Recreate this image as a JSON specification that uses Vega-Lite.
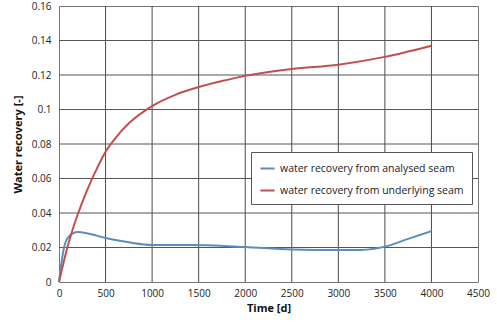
{
  "$schema": "https://vega.github.io/schema/vega-lite/v6.json",
  "width": 419,
  "height": 276,
  "autosize": {"type": "none"},
  "padding": {"left": 59, "top": 6, "right": 19, "bottom": 40},
  "background": "white",
  "config": {
    "font": "Open Sans",
    "view": {"stroke": "#777777", "strokeWidth": 1},
    "axis": {"labelFont": "Open Sans", "titleFont": "Open Sans", "labelFontSize": 10, "labelColor": "#222", "titleColor": "#111", "domain": false, "ticks": false, "grid": false, "labelOverlap": false}
  },
  "datasets": {
    "gx": [{"t": 500}, {"t": 1000}, {"t": 1500}, {"t": 2000}, {"t": 2500}, {"t": 3000}, {"t": 3500}, {"t": 4000}],
    "gy": [{"v": 0.02}, {"v": 0.04}, {"v": 0.06}, {"v": 0.08}, {"v": 0.1}, {"v": 0.12}, {"v": 0.14}],
    "series": [
      {"t": 0, "v": 0, "s": "water recovery from analysed seam"},
      {"t": 50, "v": 0.019, "s": "water recovery from analysed seam"},
      {"t": 100, "v": 0.026, "s": "water recovery from analysed seam"},
      {"t": 200, "v": 0.029, "s": "water recovery from analysed seam"},
      {"t": 300, "v": 0.0283, "s": "water recovery from analysed seam"},
      {"t": 500, "v": 0.0255, "s": "water recovery from analysed seam"},
      {"t": 750, "v": 0.023, "s": "water recovery from analysed seam"},
      {"t": 1000, "v": 0.0215, "s": "water recovery from analysed seam"},
      {"t": 1400, "v": 0.0215, "s": "water recovery from analysed seam"},
      {"t": 2000, "v": 0.0203, "s": "water recovery from analysed seam"},
      {"t": 2500, "v": 0.0188, "s": "water recovery from analysed seam"},
      {"t": 3000, "v": 0.0185, "s": "water recovery from analysed seam"},
      {"t": 3250, "v": 0.0186, "s": "water recovery from analysed seam"},
      {"t": 3500, "v": 0.0205, "s": "water recovery from analysed seam"},
      {"t": 3750, "v": 0.025, "s": "water recovery from analysed seam"},
      {"t": 4000, "v": 0.0295, "s": "water recovery from analysed seam"},
      {"t": 0, "v": 0, "s": "water recovery from underlying seam"},
      {"t": 50, "v": 0.0115, "s": "water recovery from underlying seam"},
      {"t": 100, "v": 0.022, "s": "water recovery from underlying seam"},
      {"t": 150, "v": 0.031, "s": "water recovery from underlying seam"},
      {"t": 200, "v": 0.039, "s": "water recovery from underlying seam"},
      {"t": 300, "v": 0.053, "s": "water recovery from underlying seam"},
      {"t": 400, "v": 0.065, "s": "water recovery from underlying seam"},
      {"t": 500, "v": 0.0755, "s": "water recovery from underlying seam"},
      {"t": 600, "v": 0.083, "s": "water recovery from underlying seam"},
      {"t": 750, "v": 0.092, "s": "water recovery from underlying seam"},
      {"t": 1000, "v": 0.102, "s": "water recovery from underlying seam"},
      {"t": 1250, "v": 0.1085, "s": "water recovery from underlying seam"},
      {"t": 1500, "v": 0.113, "s": "water recovery from underlying seam"},
      {"t": 1750, "v": 0.1165, "s": "water recovery from underlying seam"},
      {"t": 2000, "v": 0.1195, "s": "water recovery from underlying seam"},
      {"t": 2500, "v": 0.1235, "s": "water recovery from underlying seam"},
      {"t": 3000, "v": 0.126, "s": "water recovery from underlying seam"},
      {"t": 3500, "v": 0.1305, "s": "water recovery from underlying seam"},
      {"t": 4000, "v": 0.137, "s": "water recovery from underlying seam"}
    ]
  },
  "encoding": {
    "x": {"field": "t", "type": "quantitative", "scale": {"domain": [0, 4500], "nice": false},
      "axis": {"values": [0,500,1000,1500,2000,2500,3000,3500,4000,4500], "format": "d", "title": "Time [d]", "titleFontWeight": "bold", "titleFontSize": 11, "titlePadding": 4, "labelPadding": 6, "labelFlush": false}},
    "y": {"field": "v", "type": "quantitative", "scale": {"domain": [0, 0.16], "nice": false},
      "axis": {"values": [0,0.02,0.04,0.06,0.08,0.1,0.12,0.14,0.16], "format": "~g", "title": "Water recovery [-]", "titleFontWeight": "bold", "titleFontSize": 11, "titlePadding": 8, "labelPadding": 8}}
  },
  "layer": [
    {
      "data": {"name": "gx"},
      "mark": {"type": "rule", "color": "#4a4a4a", "strokeWidth": 1},
      "encoding": {"y": null}
    },
    {
      "data": {"name": "gy"},
      "mark": {"type": "rule", "color": "#555555", "strokeWidth": 1},
      "encoding": {"x": null}
    },
    {
      "data": {"name": "series"},
      "mark": {"type": "line", "interpolate": "monotone", "strokeWidth": 2},
      "encoding": {
        "color": {"field": "s", "type": "nominal",
          "scale": {"domain": ["water recovery from analysed seam", "water recovery from underlying seam"], "range": ["#5B8DC0", "#C0504D"]},
          "legend": {"title": null, "orient": "none", "legendX": 192, "legendY": 146, "symbolType": "stroke", "symbolSize": 200, "symbolStrokeWidth": 2, "labelFontSize": 10.5, "labelFont": "Open Sans", "labelColor": "#222", "rowPadding": 8, "padding": 8, "strokeColor": "#555555", "fillColor": "white", "labelLimit": 300}}
      }
    }
  ]
}
